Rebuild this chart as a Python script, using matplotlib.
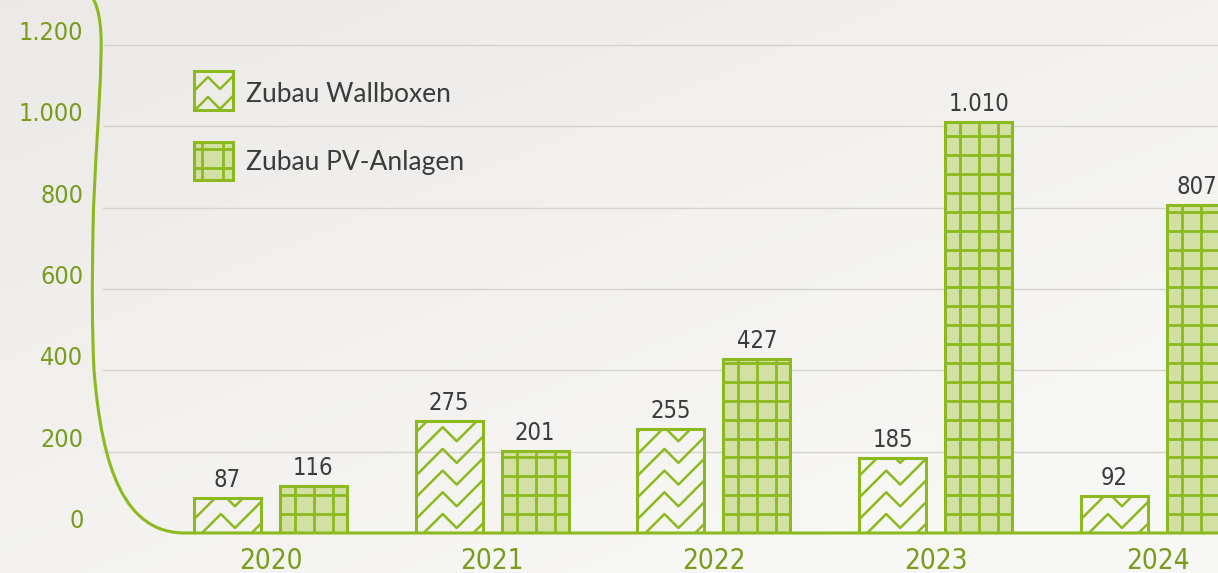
import numpy as np
import matplotlib
matplotlib.use("Agg")
import matplotlib.pyplot as plt
from matplotlib import font_manager
from matplotlib.patches import Rectangle, PathPatch
from matplotlib.path import Path
from matplotlib.lines import Line2D
from matplotlib.transforms import IdentityTransform

# data
years = ['2020', '2021', '2022', '2023', '2024']
wallboxen = [87, 275, 255, 185, 92]
pv_anlagen = [116, 201, 427, 1010, 807]
wallbox_labels = ['87', '275', '255', '185', '92']
pv_labels = ['116', '201', '427', '1.010', '807']
y_ticks = [0, 200, 400, 600, 800, 1000, 1200]
y_tick_labels = ['0', '200', '400', '600', '800', '1.000', '1.200']
legend_labels = ['Zubau Wallboxen', 'Zubau PV-Anlagen']

GREEN = '#8cba1e'
DARK_GREEN = '#7a9b1b'
FILL = '#d3e0a3'
TEXT = '#3b3b3b'
GRID = '#d6d3cf'
W, H = 1218, 573

# narrow font for numbers: condensed DejaVu if present, else Roboto
cond_file = font_manager.findfont(font_manager.FontProperties(family='DejaVu Sans', stretch='condensed'))
if 'Condensed' in cond_file:
    COND = dict(family='DejaVu Sans', stretch='condensed')
else:
    COND = dict(family='Roboto')

fig = plt.figure(figsize=(W / 100, H / 100), dpi=100)
PIX = IdentityTransform()


def P(x, y):
    # reference pixel (y down) -> display pixel (y up)
    return (x, H - y)


# background: soft paper gradient
bg = fig.add_axes([0, 0, 1, 1], zorder=-10)
yy, xx = np.mgrid[0:1:200j, 0:1:400j]
t = np.clip(0.55 * xx + 0.65 * yy, 0, 1)
c0 = np.array([0.925, 0.915, 0.905])
c1 = np.array([0.970, 0.970, 0.962])
bg.imshow(c0 + (c1 - c0) * t[..., None], extent=[0, 1, 0, 1], aspect='auto', origin='upper')
bg.axis('off')

# main axes
ax = fig.add_axes([103 / W, 40 / H, (W - 103) / W, 533 / H])
ax.patch.set_alpha(0)
x = np.arange(len(years))
bw = 0.302
off = 0.194
ax.set_xlim(-0.755, 4.273)
ax.set_ylim(0, 1311)

for v in y_ticks[1:]:
    ax.axhline(v, color=GRID, lw=1, zorder=1)

bars_w = ax.bar(x - off, wallboxen, bw, facecolor='none', edgecolor=GREEN, linewidth=2.2, zorder=3)
bars_p = ax.bar(x + off, pv_anlagen, bw, facecolor=FILL, edgecolor=GREEN, linewidth=2.2, zorder=3)

base_y = ax.transData.transform((0, 0))[1]


def zigzags(parent, xl, peaks, dpeak, dvalley, clip, lw):
    for yp in peaks:
        xs = [xl + dpeak - 90, xl + dpeak, xl + dvalley, xl + dvalley + 90]
        ys = [yp - 90, yp, yp - (dvalley - dpeak), yp - (dvalley - dpeak) + 90]
        ln = Line2D(xs, ys, transform=PIX, color=GREEN, lw=lw, zorder=6)
        parent.add_artist(ln)
        ln.set_clip_path(clip)


def grid_lines(parent, xl, xr, yb, yt, xs, ys, clip, lw):
    for gx in xs:
        ln = Line2D([gx, gx], [yb - 5, yt + 5], transform=PIX, color=GREEN, lw=lw, zorder=6)
        parent.add_artist(ln)
        ln.set_clip_path(clip)
    for gy in ys:
        ln = Line2D([xl - 5, xr + 5], [gy, gy], transform=PIX, color=GREEN, lw=lw, zorder=6)
        parent.add_artist(ln)
        ln.set_clip_path(clip)


for b in bars_w:
    (x0, y0), (x1, y1) = ax.transData.transform([(b.get_x(), 0), (b.get_x() + b.get_width(), b.get_height())])
    peaks = [base_y + 19 + 21.7 * k for k in range(-1, 60) if base_y + 19 + 21.7 * k < y1 + 40]
    zigzags(ax, x0, peaks, 27, 41, b, 1.8)

for b in bars_p:
    (x0, y0), (x1, y1) = ax.transData.transform([(b.get_x(), 0), (b.get_x() + b.get_width(), b.get_height())])
    gxs = np.arange(x0 + 15, x1, 19)
    gys = np.arange(base_y + 18.9, y1, 18.9)
    grid_lines(ax, x0, x1, y0, y1, gxs, gys, b, 2.0)

for xi, v, lab in zip(x - off, wallboxen, wallbox_labels):
    ax.annotate(lab, (xi, v), xytext=(0, 11), textcoords='offset pixels', ha='center',
                va='baseline', fontsize=17, color=TEXT, **COND)
for i, (xi, v, lab) in enumerate(zip(x + off, pv_anlagen, pv_labels)):
    dx = -4 if i == len(pv_labels) - 1 else 0  # keep the last label inside the frame
    ax.annotate(lab, (xi, v), xytext=(dx, 11), textcoords='offset pixels', ha='center',
                va='baseline', fontsize=17, color=TEXT, annotation_clip=False, **COND)

ax.set_yticks(y_ticks, y_tick_labels)
ax.set_xticks(x, years)
ax.tick_params(axis='y', length=0, pad=14, labelsize=18, labelcolor=DARK_GREEN)
ax.tick_params(axis='x', length=0, pad=10, labelsize=20, labelcolor=DARK_GREEN)
for lab in ax.get_yticklabels() + ax.get_xticklabels():
    lab.set_family(COND['family'])
    lab.set_stretch(COND.get('stretch', 'normal'))
for lab in ax.get_yticklabels():
    lab.set_va('bottom')
for s in ax.spines.values():
    s.set_visible(False)

# curved axis line + baseline
verts = [P(86, -10), P(99, 0), P(102, 25), P(101, 55),
         P(100, 110), P(94, 170), P(93, 230),
         P(92, 290), P(92, 330), P(94, 370),
         P(102, 470), P(125, 533), P(185, 533),
         P(1240, 533)]
codes = [Path.MOVETO] + [Path.CURVE4] * 12 + [Path.LINETO]
fig.add_artist(PathPatch(Path(verts, codes), transform=PIX, facecolor='none',
                         edgecolor=GREEN, lw=2.2, zorder=5))

# legend
lx, lw_box = 194, 39
box1 = Rectangle(P(lx, 110), lw_box, lw_box, transform=PIX, facecolor='none',
                 edgecolor=GREEN, lw=2.2, zorder=5)
fig.add_artist(box1)
zigzags(fig, lx, [H - 117, H - 97, H - 77, H - 57], 14, 26, box1, 1.8)

box2 = Rectangle(P(lx, 180), lw_box, 38, transform=PIX, facecolor=FILL,
                 edgecolor=GREEN, lw=2.2, zorder=5)
fig.add_artist(box2)
grid_lines(fig, lx, lx + lw_box, H - 180, H - 142, [lx + 8, lx + 29], [H - 168, H - 149], box2, 2.0)

fig.text(246 / W, 1 - 94 / H, legend_labels[0], ha='left', va='center', family='Lato',
         fontsize=19, color=TEXT)
fig.text(246 / W, 1 - 163 / H, legend_labels[1], ha='left', va='center', family='Lato',
         fontsize=19, color=TEXT)

fig.savefig('out.png', dpi=100)
